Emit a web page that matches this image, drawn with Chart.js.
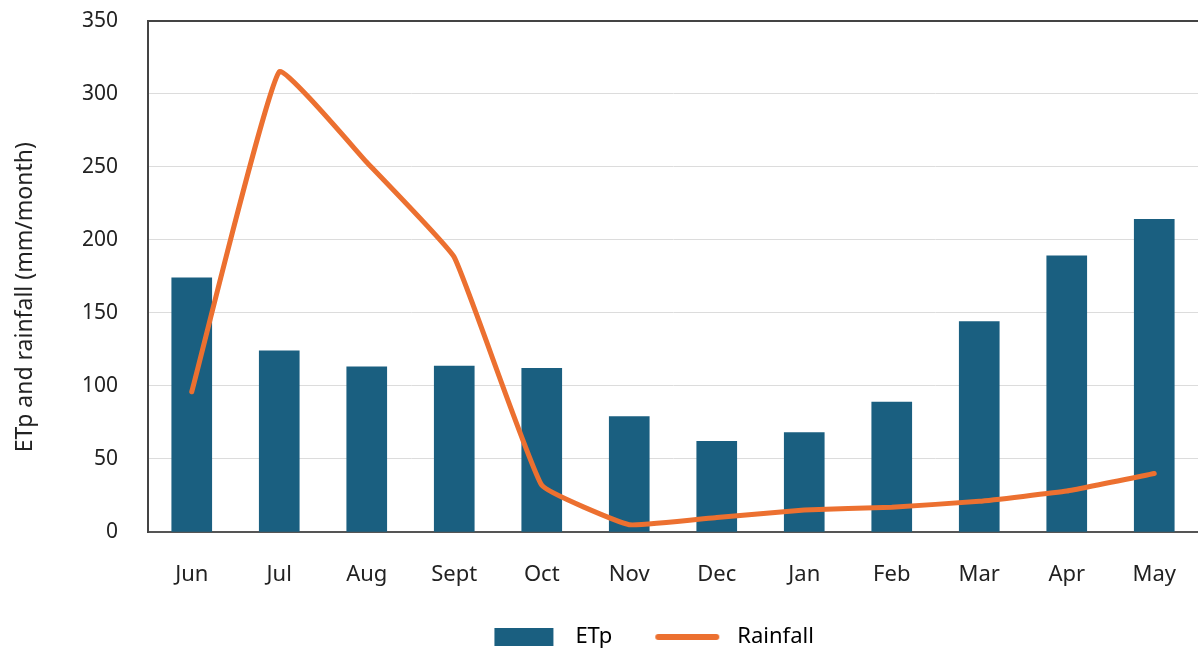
<!DOCTYPE html>
<html>
<head>
<meta charset="utf-8">
<script src="https://cdn.jsdelivr.net/npm/chart.js@4.4.1/dist/chart.umd.min.js"></script>
<style>
  html, body { margin: 0; padding: 0; background: #fff; }
  #wrap { width: 1198px; height: 650px; }
</style>
</head>
<body>
<div id="wrap"><canvas id="myChart" width="1198" height="650"></canvas></div>
<script>
// chart data
var months = ["Jun", "Jul", "Aug", "Sept", "Oct", "Nov", "Dec", "Jan", "Feb", "Mar", "Apr", "May"];
var etp = [174, 124, 113, 113.5, 112, 79, 62, 68, 89, 144, 189, 214];
var rainfall = [96, 315, 253, 188, 32, 5, 10, 15, 17, 21, 28, 40];
var yTicks = [0, 50, 100, 150, 200, 250, 300, 350];

var barColor = "#1a5f80";
var lineColor = "#ec7030";
var textColor = "#222";
var fontFamily = "'Noto Sans', 'DejaVu Sans', sans-serif";

// legend swatches (box / line) inside a wider transparent strip
var swatchWidth = 78;
function makeSwatch(kind) {
  var c = document.createElement("canvas");
  c.width = swatchWidth;
  c.height = 18;
  var g = c.getContext("2d");
  if (kind === "box") {
    g.fillStyle = barColor;
    g.fillRect(8, 0, 59, 18);
  } else {
    g.strokeStyle = lineColor;
    g.lineWidth = 6;
    g.lineCap = "round";
    g.beginPath();
    g.moveTo(10, 9);
    g.lineTo(68, 9);
    g.stroke();
  }
  return c;
}
var etpSwatch = makeSwatch("box");
var rainSwatch = makeSwatch("line");

var ctx = document.getElementById("myChart").getContext("2d");

var myChart = new Chart(ctx, {
  type: "bar",
  data: {
    labels: months,
    datasets: [
      {
        type: "bar",
        label: "ETp",
        data: etp,
        backgroundColor: barColor,
        barThickness: 40,
        order: 2,
      },
      {
        type: "line",
        label: "Rainfall",
        data: rainfall,
        borderColor: lineColor,
        backgroundColor: lineColor,
        borderWidth: 5,
        borderCapStyle: "round",
        tension: 0.1,
        pointRadius: 0,
        fill: false,
        order: 1,
      },
    ],
  },
  options: {
    responsive: false,
    animation: false,
    layout: { padding: { top: 0, right: 0, bottom: -8, left: 0 } },
    plugins: {
      tooltip: { enabled: false },
      legend: {
        position: "bottom",
        fullSize: false,
        labels: {
          color: textColor,
          font: { family: fontFamily, size: 22 },
          usePointStyle: true,
          pointStyleWidth: swatchWidth,
          padding: 36,
          generateLabels: function (chart) {
            return [
              { text: "ETp", pointStyle: etpSwatch, lineWidth: 0, datasetIndex: 0 },
              // trailing spaces only widen the item so the legend sits where the original does
              { text: "Rainfall        ", pointStyle: rainSwatch, lineWidth: 0, datasetIndex: 1 },
            ];
          },
        },
      },
    },
    scales: {
      x: {
        afterFit: function (scale) {
          scale.height = 58;
        },
        grid: {
          display: true,
          drawOnChartArea: false,
          drawTicks: true,
          tickLength: 20,
          tickColor: "rgba(0,0,0,0)",
        },
        border: { color: "#555", width: 2 },
        ticks: {
          color: textColor,
          padding: 10,
          font: { family: fontFamily, size: 22 },
        },
      },
      y: {
        min: 0,
        max: 350,
        afterFit: function (scale) {
          scale.width = 148;
        },
        afterBuildTicks: function (scale) {
          scale.ticks = yTicks.map(function (v) {
            return { value: v };
          });
        },
        grid: {
          drawTicks: true,
          tickLength: 22,
          tickColor: "rgba(0,0,0,0)",
          color: function (c) {
            return c.tick && c.tick.value === 350 ? "#444" : "#dcdcdc";
          },
          lineWidth: function (c) {
            return c.tick && c.tick.value === 350 ? 2 : 1;
          },
        },
        border: { color: "#444", width: 2 },
        ticks: {
          color: textColor,
          padding: 8,
          font: { family: fontFamily, size: 21 },
        },
        title: {
          display: true,
          // trailing spaces nudge the rotated title down a little, as in the original
          text: "ETp and rainfall (mm/month)       ",
          color: textColor,
          padding: { top: 12, bottom: 0 },
          font: { family: fontFamily, size: 23 },
        },
      },
    },
  },
});
</script>
</body>
</html>
